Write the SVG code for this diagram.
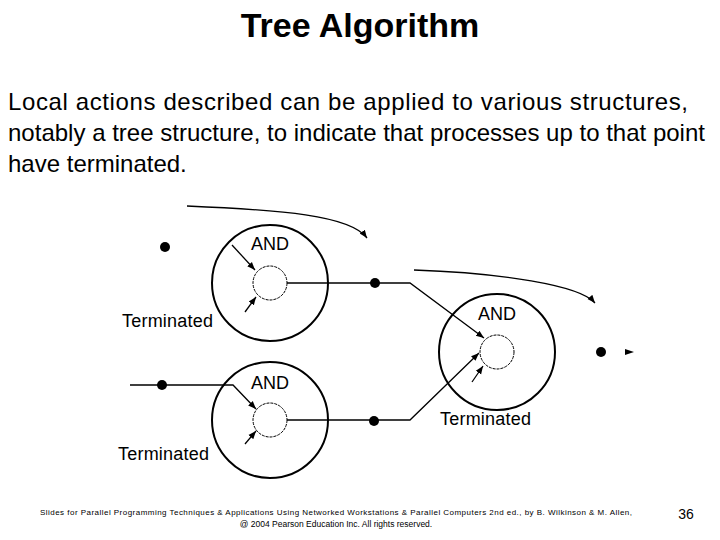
<svg xmlns="http://www.w3.org/2000/svg" width="720" height="540" viewBox="0 0 720 540">
<style>
text{font-family:"Liberation Sans",Arial,sans-serif;fill:#000}
.o{fill:none;stroke:#000;stroke-width:2}
.i{fill:#fff;stroke:#000;stroke-width:1;stroke-dasharray:3 1}
.l{fill:none;stroke:#000;stroke-width:1.3}
.d{fill:#000}
.lab{font-size:18px}
</style>
<defs><marker id="a" viewBox="0 0 10 10" refX="10" refY="5" markerWidth="8" markerHeight="8" orient="auto" markerUnits="userSpaceOnUse"><path d="M0,1 L10,5 L0,9 z" fill="#000"/></marker></defs>
<rect width="720" height="540" fill="#fff"/>
<text x="360" y="37" text-anchor="middle" font-size="34" font-weight="bold">Tree Algorithm</text>
<text x="8" y="110" font-size="24" textLength="680">Local actions described can be applied to various structures,</text>
<text x="8" y="141" font-size="24" textLength="697">notably a tree structure, to indicate that processes up to that point</text>
<text x="8" y="172" font-size="24">have terminated.</text>
<g id="n1"><circle class="o" cx="270" cy="283" r="58"/><circle class="i" cx="270" cy="283" r="17"/><text class="lab" x="270" y="250" text-anchor="middle">AND</text><text class="lab" x="122" y="327" textLength="91">Terminated</text></g>
<g id="n2"><circle class="o" cx="270" cy="420" r="58"/><circle class="i" cx="270" cy="420" r="17"/><text class="lab" x="270" y="389" text-anchor="middle">AND</text><text class="lab" x="118" y="460" textLength="91">Terminated</text></g>
<g id="n3"><circle class="o" cx="497" cy="352" r="58"/><circle class="i" cx="497" cy="352" r="17"/><text class="lab" x="497" y="320" text-anchor="middle">AND</text><text class="lab" x="440" y="425" textLength="91">Terminated</text></g>
<g id="dots"><circle class="d" cx="165" cy="247" r="5"/><circle class="d" cx="162" cy="385" r="5"/><circle class="d" cx="375" cy="283" r="5"/><circle class="d" cx="374" cy="421" r="5"/><circle class="d" cx="601" cy="352" r="5"/></g>
<g id="connectors">
<path class="l" d="M187,206 C280,210 350,215 367,238" marker-end="url(#a)"/>
<path class="l" d="M414,270 C500,273 580,285 595,303" marker-end="url(#a)"/>
<path class="l" d="M232,245 L255,270" marker-end="url(#a)"/>
<path class="l" d="M245,312 L256,297" marker-end="url(#a)"/>
<path class="l" d="M130,385 L233,385 L256,409" marker-end="url(#a)"/>
<path class="l" d="M245,444 L256,431" marker-end="url(#a)"/>
<path class="l" d="M287,283 L410,283 L484,338" marker-end="url(#a)"/>
<path class="l" d="M287,420 L410,420 L479,353" marker-end="url(#a)"/>
<path class="l" d="M472,382 L483,366" marker-end="url(#a)"/>
<path d="M625,349 L634,352 L625,355 z" fill="#000"/>
</g>
<text x="336" y="515" text-anchor="middle" font-size="8" textLength="592">Slides for Parallel Programming Techniques &amp; Applications Using Networked Workstations &amp; Parallel Computers 2nd ed., by B. Wilkinson &amp; M. Allen,</text>
<text x="336" y="527" text-anchor="middle" font-size="8.5">@ 2004 Pearson Education Inc. All rights reserved.</text>
<text x="686" y="519" text-anchor="middle" font-size="14">36</text>
</svg>
